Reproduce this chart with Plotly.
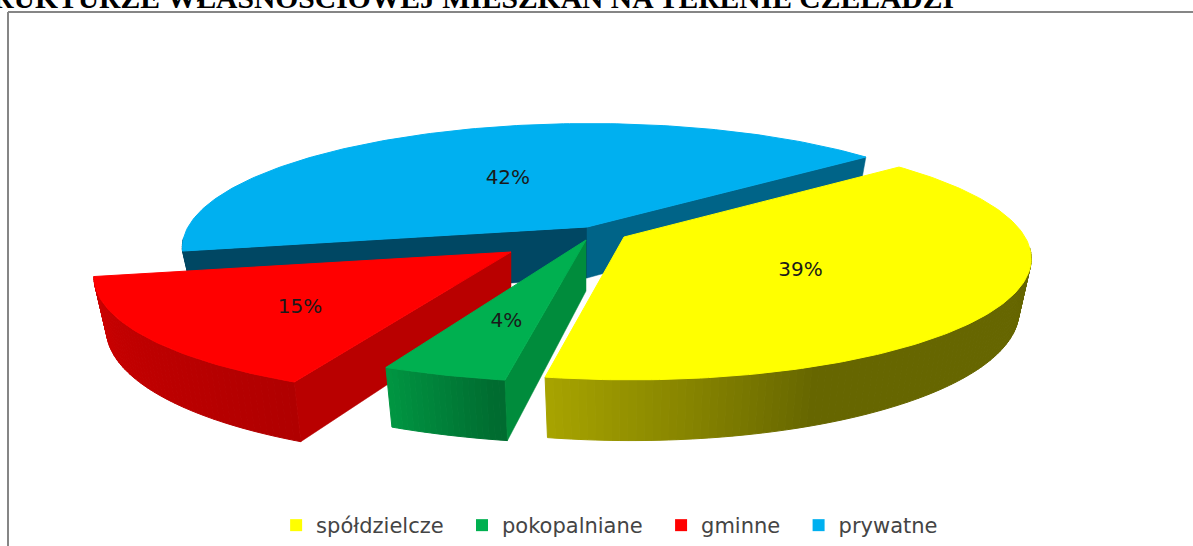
import math
import plotly.graph_objects as go

# --- data ---
categories = ["spółdzielcze", "pokopalniane", "gminne", "prywatne"]
values = [39, 4, 15, 42]
top_colors = ["#FFFF00", "#00B050", "#FF0000", "#00B0F0"]
title_text = "STRUKTURZE WŁASNOŚCIOWEJ MIESZKAŃ NA TERENIE CZELADZI"

# --- projection of the tilted pie (styling / layout constants) ---
W, H = 1193, 546
START = 50.0          # first slice angle, clockwise from back
RX, RY, K, DEPTH, TAPER = 403.0, 120.0, 0.16, 51.0, 0.03
APEX = [(624, 237), (586, 240), (511, 252), (587, 227)]
SCALE_X = [0.995, 1.06, 1.015, 0.99]
SCALE_Y = [1.0, 1.0, 1.02, 1.0]
SHEAR = [-6.0, -9.0, 15.0, 3.0]
LABEL_F = [0.485, 0.60, 0.60, 0.50]
LABEL_DY = [4, 6, 8, 2]
RIM_FROM = ["#A8A400", "#009642", "#CC0000", "#004763"]
RIM_TO = ["#666600", "#006C30", "#B00000", "#004763"]
RIM_SPAN = [0.24, 0.9, 1.0, 1.0]
CUT_START = [None, "#008C3C", "#B90000", "#004763"]
CUT_END = [None, None, None, "#006488"]


def proj(i, deg, r=1.0, z=0.0):
    t = math.radians(deg)
    u, v = r * math.sin(t), r * math.cos(t)
    s = 1 / (1 + K * v)
    ax, ay = APEX[i]
    x = ax + (RX * SCALE_X[i] * u + SHEAR[i] * v) * s * (1 - TAPER * z)
    return x, ay + (-RY * SCALE_Y[i] * v + z * DEPTH) * s


def hexmix(a, b, f):
    ca = [int(a[j:j + 2], 16) for j in (1, 3, 5)]
    cb = [int(b[j:j + 2], 16) for j in (1, 3, 5)]
    return "#%02X%02X%02X" % tuple(round(x + (y - x) * f) for x, y in zip(ca, cb))


def poly(pts, color, lw=0.5):
    xs = [p[0] for p in pts] + [pts[0][0]]
    ys = [p[1] for p in pts] + [pts[0][1]]
    return go.Scatter(x=xs, y=ys, mode="lines", fill="toself", fillcolor=color,
                      line=dict(width=lw, color=color), hoverinfo="skip", showlegend=False)


fig = go.Figure()

# slice angle ranges derived from values
total = sum(values)
spans = []
a = START
for val in values:
    b = a + 360 * val / total
    spans.append((a, b))
    a = b

labels = []
for i in [3, 2, 1, 0]:   # painter's order
    a, b = spans[i]
    # rim, only the front facing arc shows
    n = max(20, int(b - a))
    for j in range(n):
        a0 = a + (b - a) * j / n
        a1 = a + (b - a) * (j + 1) / n
        mid = (a0 + a1) / 2
        if 95 < mid % 360 < 265:
            f = (b - mid) / (b - a) / RIM_SPAN[i]
            col = hexmix(RIM_FROM[i], RIM_TO[i], min(1.0, f))
            fig.add_trace(poly([proj(i, a0), proj(i, a1), proj(i, a1, z=1), proj(i, a0, z=1)], col, 1.0))
    # cut faces
    if CUT_START[i]:
        fig.add_trace(poly([proj(i, a, 0), proj(i, a), proj(i, a, z=1), proj(i, a, 0, z=1)], CUT_START[i]))
    if CUT_END[i]:
        fig.add_trace(poly([proj(i, b, 0), proj(i, b), proj(i, b, z=1), proj(i, b, 0, z=1)], CUT_END[i]))
    # top, its outline covers the rim seam
    m = int(b - a) + 2
    pts = [proj(i, a, 0)] + [proj(i, a + (b - a) * j / m) for j in range(m + 1)]
    fig.add_trace(poly(pts, top_colors[i], 1.0))
    lx, ly = proj(i, (a + b) / 2, LABEL_F[i])
    labels.append((lx, ly + LABEL_DY[i], f"{values[i]}%"))

# percentage labels
for lx, ly, txt in labels:
    fig.add_trace(go.Scatter(x=[lx], y=[ly], mode="text", text=[txt], showlegend=False, hoverinfo="skip",
                             textfont=dict(family="DejaVu Sans", size=20, color="#1a1a1a")))

# legend entries
for k, (name, col) in enumerate(zip(categories, top_colors)):
    pad = "\u00a0\u00a0" if k < len(categories) - 1 else ""
    fig.add_trace(go.Scatter(x=[None], y=[None], mode="markers", name=name + pad,
                             marker=dict(symbol="square", size=12, color=col)))

fig.update_layout(
    width=W, height=H, margin=dict(l=0, r=0, t=0, b=0),
    paper_bgcolor="white", plot_bgcolor="white",
    xaxis=dict(range=[0, W], visible=False, fixedrange=True),
    yaxis=dict(range=[H, 0], visible=False, fixedrange=True),
    legend=dict(orientation="h", x=0.511, xanchor="center", y=0.0, yanchor="bottom",
                font=dict(family="DejaVu Sans", size=21, color="#444444"),
                itemwidth=30, bgcolor="rgba(0,0,0,0)"),
    shapes=[
        dict(type="line", xref="x", yref="y", x0=8, x1=8, y0=12, y1=H, line=dict(color="#868686", width=2)),
        dict(type="line", xref="x", yref="y", x0=8, x1=W, y0=12, y1=12, line=dict(color="#868686", width=2)),
    ],
    annotations=[dict(text=f"<b>{title_text}</b>", xref="x", yref="y", x=955, y=15, xanchor="right",
                      yanchor="bottom", showarrow=False, borderpad=0,
                      font=dict(family="Liberation Serif", size=29.6, color="black"))],
)
fig.write_html("out.html", config={"displayModeBar": False},
               post_script="document.body.style.margin='0';document.body.style.overflow='hidden';")
